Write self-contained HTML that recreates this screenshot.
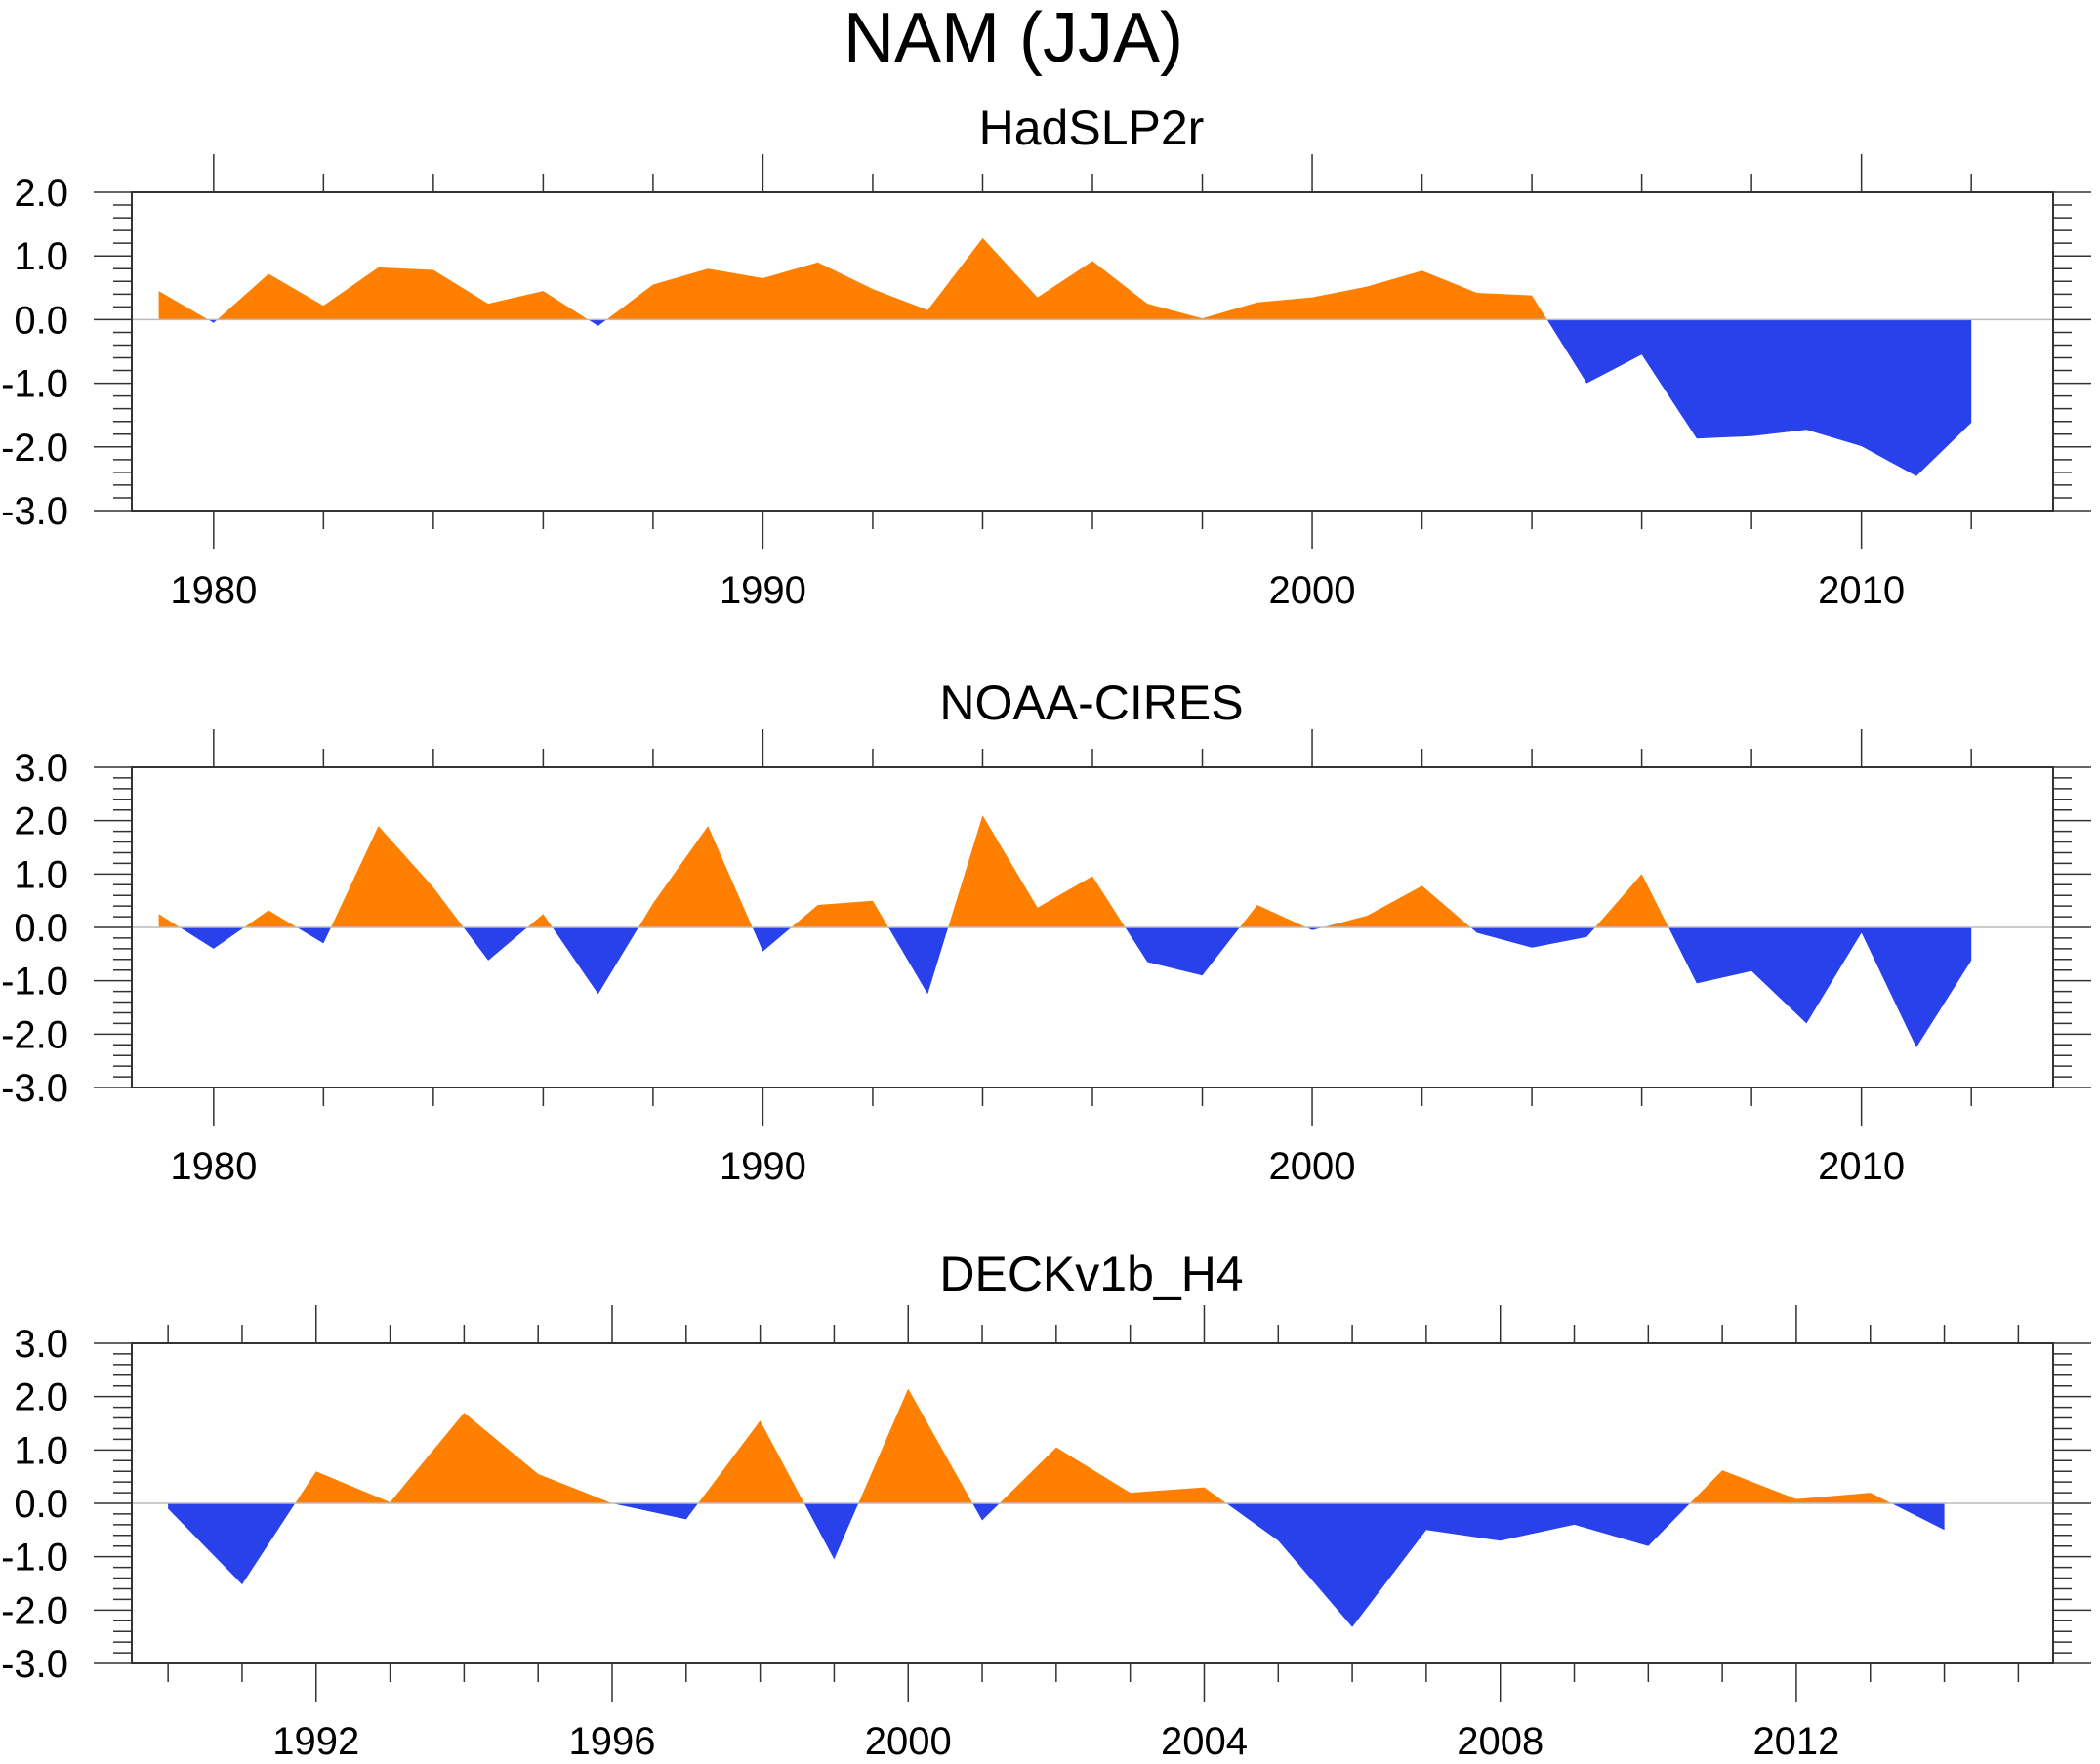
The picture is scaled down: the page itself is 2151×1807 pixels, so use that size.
<!DOCTYPE html>
<html><head><meta charset="utf-8"><style>
html,body{margin:0;padding:0;background:#fff;}
svg{display:block;font-family:"Liberation Sans",sans-serif;}
</style></head><body>
<svg id="chart" width="2151" height="1807" viewBox="0 0 2151 1807" xmlns="http://www.w3.org/2000/svg">
<text x="1038" y="63" font-size="72" text-anchor="middle">NAM (JJA)</text>
</svg>
<script>
const hadYears = [1979,1980,1981,1982,1983,1984,1985,1986,1987,1988,1989,1990,1991,1992,1993,1994,1995,1996,1997,1998,1999,2000,2001,2002,2003,2004,2005,2006,2007,2008,2009,2010,2011,2012];
const hadValues = [0.45,-0.05,0.72,0.22,0.82,0.78,0.25,0.45,-0.1,0.55,0.8,0.65,0.9,0.48,0.15,1.28,0.35,0.92,0.25,0.02,0.27,0.35,0.52,0.77,0.42,0.38,-1.0,-0.55,-1.87,-1.83,-1.73,-1.99,-2.46,-1.62];
const noaaYears = hadYears.slice();
const noaaValues = [0.25,-0.4,0.32,-0.3,1.9,0.75,-0.62,0.25,-1.25,0.45,1.9,-0.45,0.42,0.5,-1.25,2.1,0.37,0.96,-0.65,-0.9,0.42,-0.05,0.22,0.78,-0.1,-0.38,-0.18,1.0,-1.05,-0.82,-1.8,-0.1,-2.25,-0.62];
const deckYears = [1990,1991,1992,1993,1994,1995,1996,1997,1998,1999,2000,2001,2002,2003,2004,2005,2006,2007,2008,2009,2010,2011,2012,2013,2014];
const deckValues = [-0.1,-1.52,0.6,0.02,1.7,0.55,0.0,-0.3,1.55,-1.05,2.15,-0.32,1.05,0.2,0.3,-0.7,-2.32,-0.5,-0.7,-0.4,-0.8,0.62,0.08,0.2,-0.5];
const yTicks1 = ["2.0","1.0","0.0","-1.0","-2.0","-3.0"];
const yTicks23 = ["3.0","2.0","1.0","0.0","-1.0","-2.0","-3.0"];
const xLabels12 = ["1980","1990","2000","2010"];
const xLabels3 = ["1992","1996","2000","2004","2008","2012"];

const NS="http://www.w3.org/2000/svg";
const svg=document.getElementById('chart');
function mk(tag,attrs,parent){const e=document.createElementNS(NS,tag);for(const k in attrs)e.setAttribute(k,attrs[k]);(parent||svg).appendChild(e);return e;}

const L=135,R=2103;
function panel(opt){
  const g=mk('g',{});
  
  
  const xs=v=>L+(v-opt.xmin)/(opt.xmax-opt.xmin)*(R-L);
  const ys=v=>opt.top+(opt.ymax-v)/(opt.ymax-opt.ymin)*(opt.bot-opt.top);
  const t=mk('text',{x:1118,y:opt.titleY,'font-size':50,'text-anchor':'middle'},g);
  t.textContent=opt.title;
  
  
  const y0=ys(0);
  const X=opt.years, V=opt.values;
  let segs=[];let cur=null;
  for(let i=0;i<X.length;i++){
    const s=V[i]>=0?1:-1;
    if(!cur){cur={s:s,pts:[[xs(X[i]),y0],[xs(X[i]),ys(V[i])]]};continue;}
    if(s!==cur.s){
      const f=V[i-1]/(V[i-1]-V[i]);
      const xc=xs(X[i-1]+f*(X[i]-X[i-1]));
      cur.pts.push([xc,y0]);segs.push(cur);
      cur={s:s,pts:[[xc,y0]]};
    }
    cur.pts.push([xs(X[i]),ys(V[i])]);
  }
  cur.pts.push([xs(X[X.length-1]),y0]);segs.push(cur);
  segs.forEach(sg=>{
    const p=mk('polygon',{points:sg.pts.map(q=>q[0].toFixed(1)+','+q[1].toFixed(1)).join(' '),fill:sg.s>0?'#FF8000':'#2841EB'},g);
    
    
  });
  const zl=mk('line',{x1:L,x2:R,y1:y0,y2:y0,stroke:'#bbb','stroke-width':1.5},g);
  
  
  const fr=mk('rect',{x:L,y:opt.top,width:R-L,height:opt.bot-opt.top,fill:'none',stroke:'#333','stroke-width':2},g);
  
  
  for(let v=opt.ymin;v<=opt.ymax+1e-6;v+=0.2){
    const vv=Math.round(v*10)/10;
    const major=Math.abs(vv-Math.round(vv))<1e-6;
    const y=ys(vv);
    mk('line',{x1:L-(major?39:19),x2:L,y1:y,y2:y,stroke:'#333','stroke-width':1.5},g);
    mk('line',{x1:R,x2:R+(major?39:19),y1:y,y2:y,stroke:'#333','stroke-width':1.5},g);
  }
  opt.yLabels.forEach(lab=>{
    const tx=mk('text',{x:70,y:ys(parseFloat(lab))+14,'font-size':40,'text-anchor':'end'},g);
    tx.textContent=lab;
    
    
  });
  for(let yr=Math.ceil(opt.xmin);yr<=opt.xmax;yr++){
    const major=yr%opt.major===0;
    if(!major && (yr-opt.minorBase)%opt.minor!==0)continue;
    const x=xs(yr);
    const len=major?39:19;
    mk('line',{x1:x,x2:x,y1:opt.top-len,y2:opt.top,stroke:'#333','stroke-width':1.5},g);
    mk('line',{x1:x,x2:x,y1:opt.bot,y2:opt.bot+len,stroke:'#333','stroke-width':1.5},g);
  }
  opt.xLabels.forEach(lab=>{
    const tx=mk('text',{x:xs(parseFloat(lab)),y:opt.labelY,'font-size':40,'text-anchor':'middle'},g);
    tx.textContent=lab;
    
    
  });
}
panel({name:'hadslp2r-panel',title:'HadSLP2r',titleY:148,top:197,bot:523,ymin:-3,ymax:2,xmin:1978.51,xmax:2013.49,years:hadYears,values:hadValues,yLabels:yTicks1,xLabels:xLabels12,major:10,minor:2,minorBase:1980,labelY:618});
panel({name:'noaa-cires-panel',title:'NOAA-CIRES',titleY:737,top:786,bot:1114,ymin:-3,ymax:3,xmin:1978.51,xmax:2013.49,years:noaaYears,values:noaaValues,yLabels:yTicks23,xLabels:xLabels12,major:10,minor:2,minorBase:1980,labelY:1208});
panel({name:'deckv1b-h4-panel',title:'DECKv1b_H4',titleY:1322,top:1376,bot:1704,ymin:-3,ymax:3,xmin:1989.51,xmax:2015.47,years:deckYears,values:deckValues,yLabels:yTicks23,xLabels:xLabels3,major:4,minor:1,minorBase:1990,labelY:1797});
</script>
</body></html>
